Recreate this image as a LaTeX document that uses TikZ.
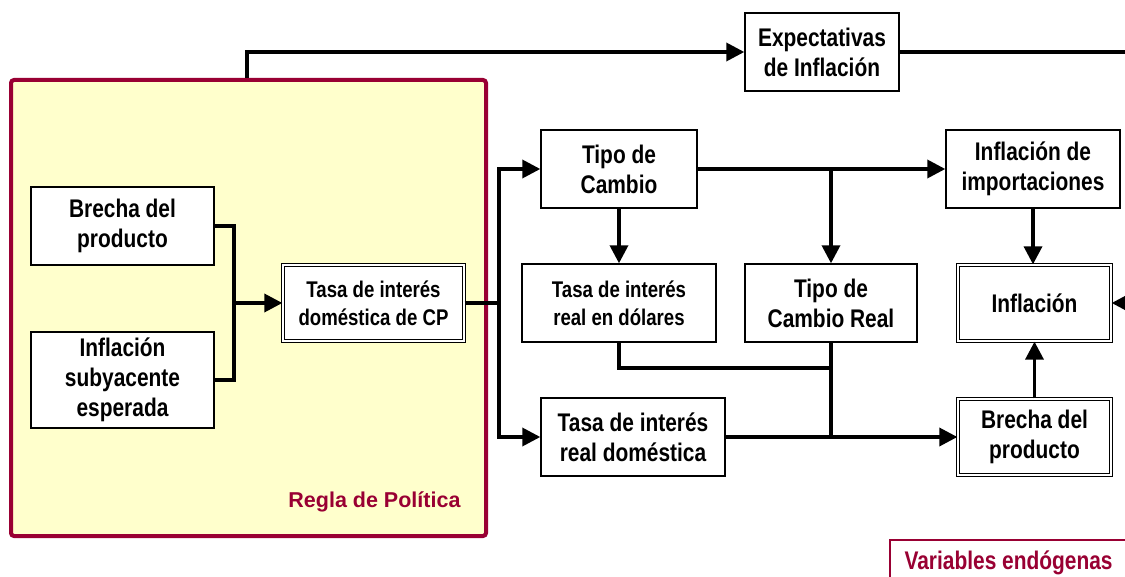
\documentclass[tikz,border=0pt]{standalone}
\usepackage{fontspec}
\setmainfont{Liberation Sans}[FakeStretch=0.82]
\newfontfamily\widefont{Liberation Sans}
\usetikzlibrary{arrows.meta}
\definecolor{wine}{RGB}{153,0,51}
\definecolor{paleyellow}{RGB}{255,255,204}
\tikzset{
  box/.style={draw=black, line width=1.4pt, fill=white, align=center, inner sep=0pt,
    font=\bfseries\fontsize{25.5}{30}\selectfont},
  smallbox/.style={box, font=\bfseries\fontsize{22.7}{28}\selectfont},
  dbox/.style={box, line width=1.3pt, double=white, double distance=2.2pt},
  conn/.style={line width=3.5pt, line join=miter},
  arr/.style={conn, -{Triangle[length=18pt,width=18pt]}},
}
\begin{document}
\begin{tikzpicture}[x=1pt,y=-1pt]
\clip (0,0) rectangle (1125,577);
\fill[white] (0,0) rectangle (1125,577);
% policy rule region
\node[draw=wine, line width=4pt, fill=paleyellow, rounded corners=3pt, minimum width=475pt, minimum height=456pt, inner sep=0pt] (regla) at (248.5,308) {};
\node[text=wine, font=\widefont\bfseries\fontsize{21.5}{24}\selectfont, anchor=east] (reglatxt) at (464,502) {Regla de Política};
% nodes
\node[box, minimum width=183pt, minimum height=78pt] (brecha1) at (122.5,226) {Brecha del\\producto};
\node[box, minimum width=183pt, minimum height=96pt] (subyac) at (122.5,380) {Inflación\\subyacente\\esperada};
\node[dbox, font=\bfseries\fontsize{22.7}{28}\selectfont, minimum width=181pt, minimum height=76pt] (cp) at (373.5,303) {Tasa de interés\\doméstica de CP};
\node[box, minimum width=154pt, minimum height=78pt] (expect) at (822,52) {Expectativas\\de Inflación};
\node[box, minimum width=156pt, minimum height=78pt] (tipo) at (619,169) {Tipo de\\Cambio};
\node[box, minimum width=174pt, minimum height=78pt] (importa) at (1033,169) {Inflación de\\importaciones};
\node[smallbox, minimum width=194pt, minimum height=78pt] (dolares) at (619,303) {Tasa de interés\\real en dólares};
\node[box, minimum width=172pt, minimum height=78pt] (tcr) at (831,303) {Tipo de\\Cambio Real};
\node[dbox, minimum width=153pt, minimum height=76pt] (infl) at (1034.5,303) {Inflación};
\node[box, minimum width=184pt, minimum height=78pt] (domest) at (633,437) {Tasa de interés\\real doméstica};
\node[dbox, minimum width=153pt, minimum height=76pt] (brecha2) at (1034.5,437) {Brecha del\\producto};
% legend box
\draw[draw=wine, line width=2pt] (890,540) rectangle (1140,600);
\node[text=wine, font=\bfseries\fontsize{25.5}{28}\selectfont, anchor=west] (endog) at (901,563) {Variables endógenas};
% junction coordinates
\coordinate (j1) at (234,303);
\coordinate (j2) at (499,303);
\coordinate (j3) at (831,169);
\coordinate (j4) at (831,368);
\coordinate (j5) at (831,437);
\coordinate (t1) at (247,52);
\coordinate (r1) at (1140,52);
\coordinate (r2) at (1140,303);
% connectors
\draw[conn] (brecha1.east) -| (j1) |- (subyac.east);
\draw[arr] (j1) -- (cp.west);
\draw[conn] (cp.east) -- (j2);
\draw[arr] (j2) |- (tipo.west);
\draw[arr] (j2) |- (domest.west);
\draw[arr] (tipo.east) -- (importa.west);
\draw[arr] (j3) -- (tcr.north);
\draw[arr] (tipo.south) -- (dolares.north);
\draw[conn] (dolares.south) |- (j4);
\draw[conn] (tcr.south) -- (j5);
\draw[arr] (domest.east) -- (brecha2.west);
\draw[arr] (importa.south) -- (importa.south |- infl.north);
\draw[arr] (brecha2.north) -- (infl.south);
\draw[arr] (regla.north -| t1) -- (t1) -- (expect.west);
\draw[conn] (expect.east) -- (r1) -- (r2);
\draw[arr] (r2) -- (infl.east);
\end{tikzpicture}
\end{document}
